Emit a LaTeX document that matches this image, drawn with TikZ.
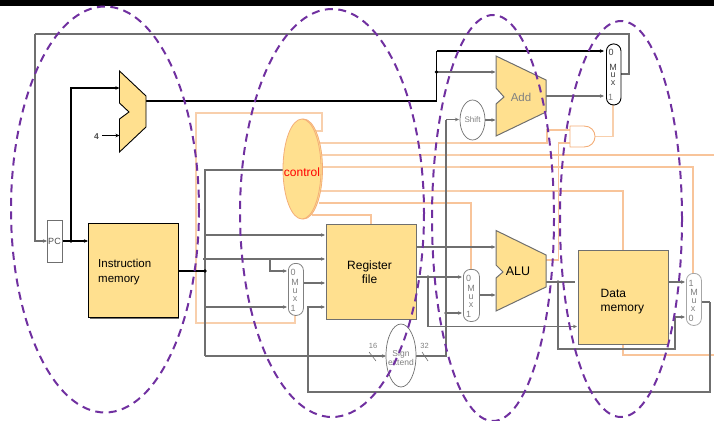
\documentclass[tikz,border=0pt]{standalone}
\usepackage{fontspec}
\setmainfont{Liberation Sans}
\usetikzlibrary{arrows.meta}
\definecolor{tan}{HTML}{FFE08F}
\definecolor{wire}{HTML}{6F6F6F}
\definecolor{ctlline}{HTML}{F4AE78}
\definecolor{ctlthin}{HTML}{F8C49A}
\definecolor{ctlpale}{HTML}{F8CFAC}
\definecolor{oval}{HTML}{7030A0}
\definecolor{graytxt}{HTML}{808080}
\tikzset{
  wirel/.style={draw=wire,line width=1.5pt},
  datal/.style={draw=black,line width=1.5pt},
  ctrll/.style={draw=ctlthin,line width=1.2pt},
  pale/.style={draw=ctlpale,line width=1.4pt},
  thinarr/.style={-{Stealth[length=4pt,width=3.5pt]}},
  dot/.style={circle,fill=#1,inner sep=0pt,minimum size=3.8pt},
  block/.style={rectangle,fill=tan,inner sep=0pt,anchor=north west},
  muxbox/.style={rectangle,rounded corners=7pt,fill=white,inner sep=0pt,anchor=north west},
  groupoval/.style={draw=oval,line width=2pt,dash pattern=on 8pt off 5.5pt},
  mlabel/.style={inner sep=0pt,font=\fontsize{9}{9}\selectfont,text=graytxt},
  txt/.style={inner sep=0pt,align=center,text=black}
}
\begin{document}
\begin{tikzpicture}[x=1pt,y=-1pt]
\useasboundingbox (0,0) rectangle (714,420);
\fill[black] (0,0) rectangle (714,6);

% ---- ports / junctions -------------------------------------
\coordinate (frameTL) at (35,34);
\coordinate (frameBL) at (35,241);
\coordinate (frameTR) at (629,34);
\coordinate (frameBR) at (629,74);
\coordinate (pcJ) at (71,241);
\coordinate (pcUp) at (71,88);
\coordinate (addA) at (119.5,88);
\coordinate (addB) at (119.5,135.5);
\coordinate (fourEnd) at (102,135.5);
\coordinate (addOut) at (146,101);
\coordinate (stepA) at (436.5,101);
\coordinate (stepB) at (436.5,51);
\coordinate (branchJ) at (436.5,72);
\coordinate (add2A) at (495.5,72);
\coordinate (add2B) at (495.5,120);
\coordinate (add2Out) at (546,96);
\coordinate (instJ) at (205,271);
\coordinate (instT) at (205,170);
\coordinate (instB) at (205,356);
\coordinate (i235) at (205,235);
\coordinate (i306) at (205,307);
\coordinate (b259) at (270,259);
\coordinate (b271) at (270,271);
\coordinate (wdE) at (308,307);
\coordinate (wdB) at (308,392);
\coordinate (wdR) at (710,392);
\coordinate (wdT) at (710,302);
\coordinate (rd2J) at (428,277);
\coordinate (rd2B) at (428,326.5);
\coordinate (seJ) at (446,356);
\coordinate (seT) at (446,119.5);
\coordinate (seM) at (446,313);
\coordinate (aluA) at (495.5,247);
\coordinate (aluB) at (495.5,295);
\coordinate (aluOut) at (546,282);
\coordinate (aluStub) at (575,282);
\coordinate (aluJ) at (558,282);
\coordinate (aluD) at (558,349);
\coordinate (aluR) at (675,349);
\coordinate (aluU) at (675,317);
\coordinate (zero) at (546,260);
\coordinate (zeroC) at (558.5,260);
\coordinate (zeroT) at (558.5,143);
\coordinate (andB) at (570,143);
\coordinate (andA) at (570,130);
\coordinate (andK) at (547,130);
\coordinate (andL) at (547,143);
\coordinate (andOut) at (595,136.5);
\coordinate (andC) at (613,136.5);

% ---- orange control wires (under the blocks) ---------------
\draw[pale] (295,315) |- (196,323) |- (322,113) |- (315,131);
\draw[ctrll] (319,143) -- (andL) -- (andK) -- (andA);
\draw[pale] (319,143) -- (460,143);
\draw[pale] (319,155) -- (460,155);
\draw[ctrll] (460,155) -- (714,155);
\draw[pale] (319,167) -- (460,167);
\draw[ctrll] (460,167) -- (693,167) -- (693,273);
\draw[pale] (319,191) -- (460,191);
\draw[ctrll] (460,191) -- (623,191) -- (623,250);
\draw[ctrll] (319,203) -- (471,203) -- (471,270);
\draw[ctrll] (312,215) -- (371,215) -- (371,224);
\draw[ctrll] (zero) -- (zeroC) -- (zeroT) -- (andB);
\draw[ctrll] (623,344) -- (623,355) -- (714,355);
\draw[pale] (andOut) -| (613,104);

% ---- gray / black wires ------------------------------------
\draw[wirel] (frameTL) -- (frameTR) -- (frameBR) -- (620,74);
\draw[wirel,thinarr,line width=1.2pt] (frameTL) -- (frameBL) -- (47,241);
\draw[datal,thinarr,line width=1.3pt] (62,241) -- (88,241);
\draw[datal,thinarr] (pcJ) -- (pcUp) -- (addA);
\draw[datal,thinarr,line width=1.1pt] (fourEnd) -- (addB);
\draw[datal] (addOut) -- (stepA) -- (stepB);
\draw[datal,thinarr,line width=1.2pt] (stepB) -- (604,51);
\draw[wirel,thinarr] (branchJ) -- (add2A);
\draw[wirel,thinarr] (add2Out) -- (604,96);
\draw[wirel] (instB) -- (instT) -- (283,170);
\draw[wirel,thinarr] (i235) -- (325,235);
\draw[wirel,thinarr] (203,259) -- (325,259);
\draw[wirel,thinarr] (b259) -- (b271) -- (287,271);
\draw[wirel,thinarr] (i306) -- (287,307);
\draw[wirel,thinarr] (303,283) -- (325,283);
\draw[wirel,thinarr] (wdT) -- (wdR) -- (wdB) -- (wdE) -- (325,307);
\draw[wirel] (701,302) -- (wdT);
\draw[wirel,thinarr] (instB) -- (386,356);
\draw[wirel] (416,356) -- (seJ) -- (seT);
\draw[wirel,thinarr] (seT) -- (459,119.5);
\draw[wirel,thinarr] (seM) -- (462,313);
\draw[wirel,thinarr] (416,247) -- (aluA);
\draw[wirel,thinarr] (416,277) -- (462,277);
\draw[wirel,thinarr] (rd2J) -- (rd2B) -- (577,326.5);
\draw[wirel,thinarr] (485,120) -- (add2B);
\draw[wirel,thinarr] (479,295) -- (aluB);
\draw[wirel] (aluOut) -- (aluStub);
\draw[wirel,thinarr] (aluJ) -- (aluD) -- (aluR) -- (aluU) -- (685,317);
\draw[wirel,thinarr] (668,282) -- (685,282);
\draw[datal] (177.5,271) -- (instJ);

% ---- blocks ------------------------------------------------
\draw[draw=wire,line width=1pt] (90,318) -- (178.5,318) -- (178.5,224);
\node[block,draw=black,line width=.9pt,minimum width=89.5pt,minimum height=94.5pt] (imem) at (88,222.5) {};
\node[block,draw=wire,line width=1.3pt,minimum width=90pt,minimum height=95pt] (regf) at (326,224) {};
\node[block,draw=wire,line width=1.3pt,minimum width=90pt,minimum height=94pt] (dmem) at (578,250) {};
\node[rectangle,draw=wire,fill=white,line width=.9pt,inner sep=0pt,anchor=north west,minimum width=15pt,minimum height=42pt] (pc) at (47,220) {};
\node[txt,text=black!70,font=\fontsize{9}{9}\selectfont] (pcT) at (54.5,241.5) {PC};
\node[txt,anchor=west,align=left,font=\fontsize{11.5}{15}\selectfont] (imemT) at (98,272.5) {Instruction\\memory};
\node[txt,font=\fontsize{12}{14}\selectfont] (regfT) at (369.5,272) {Register\\file};
\node[txt,anchor=west,align=left,font=\fontsize{12}{14}\selectfont] (dmemT) at (600.5,301.5) {Data\\memory};

% adders / ALU
\draw[fill=tan,draw=black,line width=.9pt,line join=miter] (119.5,71) -- (146,96) -- (146,127) -- (119.5,152) -- (119.5,119) -- (129,112) -- (119.5,103) -- cycle;
\draw[fill=tan,draw=wire,line width=1pt] (496,56) -- (546,80) -- (546,112) -- (496,136) -- (496,104) -- (504,97) -- (496,88) -- cycle;
\draw[fill=tan,draw=wire,line width=1pt] (496,230.5) -- (546,255) -- (546,287) -- (496,311) -- (496,278) -- (503,272) -- (496,265) -- cycle;
\node[txt,text=graytxt,font=\fontsize{11.5}{12}\selectfont] (addT) at (521,97) {Add};
\node[txt,font=\fontsize{12.5}{13}\selectfont] (aluT) at (518,271) {ALU};
\node[txt,text=black!70,font=\bfseries\fontsize{8.5}{9}\selectfont] (four) at (96.5,136.5) {4};

% control oval
\draw[fill=tan,draw=ctlline,line width=.8pt] (303.5,169) ellipse [x radius=19,y radius=50];
\draw[fill=tan,draw=ctlline,line width=.8pt] (302,169) ellipse [x radius=19,y radius=50];
\node[txt,text=red,font=\fontsize{12}{12}\selectfont] (ctlT) at (302,172) {control};

% muxes
\node[muxbox,draw=black,line width=.9pt,minimum width=14.5pt,minimum height=61pt] (muxA) at (606,43.5) {};
\node[mlabel,text=black!75] at (611,52) {0};
\node[mlabel,text=black!75] at (613,67) {M};
\node[mlabel,text=black!75] at (613,75.5) {u};
\node[mlabel,text=black!75] at (613,83.5) {x};
\node[mlabel] at (610.5,97) {1};

\node[muxbox,draw=graytxt,line width=.8pt,minimum width=15pt,minimum height=52pt] (muxB) at (288,263) {};
\node[mlabel] at (293,272) {0};
\node[mlabel] at (295,282) {M};
\node[mlabel] at (295,291) {u};
\node[mlabel] at (295,299) {x};
\node[mlabel] at (293,308) {1};

\node[muxbox,draw=graytxt,line width=.8pt,minimum width=16pt,minimum height=52pt] (muxC) at (463,269) {};
\node[mlabel] at (468.5,278) {0};
\node[mlabel] at (471,288) {M};
\node[mlabel] at (471,297) {u};
\node[mlabel] at (471,305) {x};
\node[mlabel] at (468.5,314) {1};

\node[muxbox,draw=graytxt!70,line width=.8pt,minimum width=15pt,minimum height=52pt] (muxD) at (686,273) {};
\node[mlabel] at (691,283) {1};
\node[mlabel] at (694,292) {M};
\node[mlabel] at (694,301) {u};
\node[mlabel] at (693,309) {x};
\node[mlabel] at (691,318) {0};

% shift & sign extend
\draw[fill=white,draw=wire,line width=.7pt] (472.5,120) ellipse [x radius=12.5,y radius=20];
\node[txt,text=graytxt,font=\fontsize{8}{8}\selectfont] (shiftT) at (472.5,119.5) {Shift};
\draw[fill=white,draw=wire,line width=.7pt] (401,355.5) ellipse [x radius=15,y radius=31.5];
\node[txt,text=graytxt,font=\fontsize{8.5}{9}\selectfont] (signT) at (401,357.5) {Sign\\extend};
\node[txt,text=graytxt,font=\fontsize{7.5}{7}\selectfont] (n16) at (373,345.5) {16};
\node[txt,text=graytxt,font=\fontsize{7.5}{7}\selectfont] (n32) at (424.5,345.5) {32};
\draw[draw=wire,line width=.6pt] (369,352) -- (376,361);
\draw[draw=wire,line width=.6pt] (422,352) -- (428,361);

% AND gate
\draw[fill=white,draw=ctlline,line width=.9pt] (570,126) -- (584,126) .. controls (591,126) and (595,131) .. (595,136.5) .. controls (595,142) and (591,147) .. (584,147) -- (570,147) -- cycle;

% junction dots
\node[dot=black] (d1) at (pcJ) {};
\node[dot=black] (d2) at (instJ) {};
\node[dot=black] (d3) at (branchJ) {};
\node[dot=wire] (d4) at (rd2J) {};
\node[dot=wire] (d5) at (seM) {};
\node[dot=wire] (d6) at (aluJ) {};

% grouping ovals
\draw[groupoval] (105,209.5) ellipse [x radius=94,y radius=203];
\draw[groupoval] (332,213) ellipse [x radius=92,y radius=204];
\draw[groupoval] (493,218) ellipse [x radius=61,y radius=203];
\draw[groupoval] (621,219) ellipse [x radius=61,y radius=198];
\end{tikzpicture}
\end{document}
